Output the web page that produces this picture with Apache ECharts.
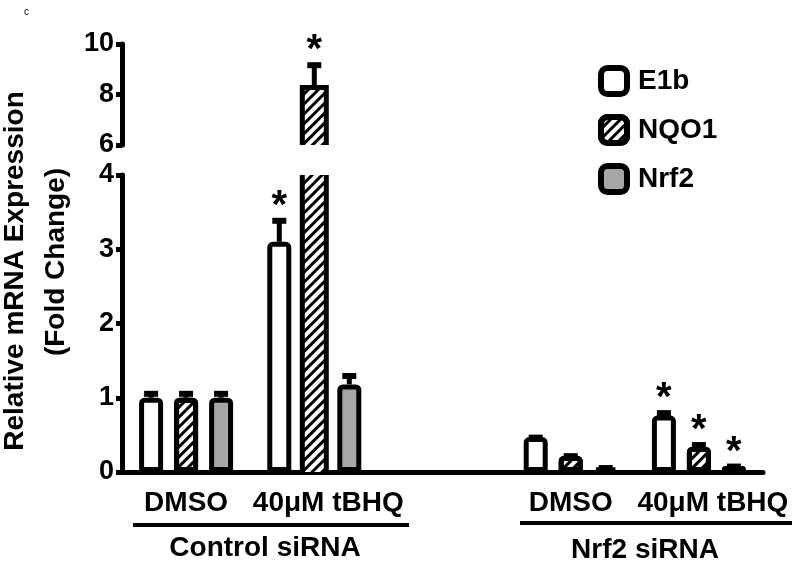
<!DOCTYPE html>
<html>
<head>
<meta charset="utf-8">
<title>Relative mRNA Expression</title>
<script src="https://cdn.jsdelivr.net/npm/echarts@6/dist/echarts.min.js"></script>
<style>
    html, body { margin: 0; padding: 0; background: #fff; }
    #main { width: 800px; height: 563px; }
</style>
</head>
<body>
<div id="main"></div>
<script>
    // values (third category is the empty spacer between the two siRNA groups)
    var categories = ['DMSO', '40μM tBHQ', '', 'DMSO', '40μM tBHQ'];
    var seriesNames = ['E1b', 'NQO1', 'Nrf2'];
    var e1b  = [1.00, 3.10, '-', 0.47, 0.76];
    var nqo1 = [1.00, 8.28, '-', 0.22, 0.34];
    var nrf2 = [1.00, 1.18, '-', 0.06, 0.08];
    // upper error (SEM)
    var e1bErr  = [0.08, 0.31, 0, 0.02, 0.06];
    var nqo1Err = [0.08, 0.96, 0, 0.02, 0.05];
    var nrf2Err = [0.08, 0.14, 0, 0.02, 0.02];
    // 1 = asterisk above the bar
    var e1bSig  = [0, 1, 0, 0, 1];
    var nqo1Sig = [0, 1, 0, 0, 1];
    var nrf2Sig = [0, 0, 0, 0, 1];
    // broken y axis: lower and upper segment
    var lowerAxis = { min: 0, max: 4, interval: 1 };
    var upperAxis = { min: 6, max: 10, interval: 2 };
    var groupLabels = ['Control siRNA', 'Nrf2 siRNA'];

    var FONT = '"Liberation Sans", Arial, sans-serif';
    var BAR_W = 24, BAR_GAP = 11, STAR_GAP = 12, EDGE = 5;

    var values = [e1b, nqo1, nrf2];
    var errs = [e1bErr, nqo1Err, nrf2Err];
    var sigs = [e1bSig, nqo1Sig, nrf2Sig];
    var fills = ['#ffffff', '#ffffff', '#a6a6a6'];
    var hatch = {
        symbol: 'rect',
        color: '#000',
        dashArrayX: [1, 0],
        dashArrayY: [3, 4],
        rotation: -Math.PI / 4
    };

    var chartDom = document.getElementById('main');
    var myChart = echarts.init(chartDom);

    // error bar + asterisk, and the open outline of a bar cut by the axis break
    function errorBar(j) {
        return function (params, api) {
            var cs = params.coordSys;
            var cat = api.value(0), val = api.value(1), err = api.value(2), sig = api.value(3);
            var dx = (j - 1) * (BAR_W + BAR_GAP);
            var top = api.coord([cat, val]);
            var tip = api.coord([cat, val + err]);
            var base = api.coord([cat, 0]);
            var x = top[0] + dx, hw = BAR_W / 2;
            var yTop = cs.y, yBot = cs.y + cs.height;
            var kids = [];
            var cutTop = top[1] < yTop - 0.5, cutBot = base[1] > yBot + 0.5;
            if ((cutTop || cutBot) && top[1] <= yBot) {
                var y1 = cutTop ? yTop : top[1], y2 = cutBot ? yBot : base[1];
                var lineStyle = { stroke: '#000', lineWidth: EDGE, fill: null };
                if (cutTop) {
                    kids.push({ type: 'line', shape: { x1: x - hw, y1: y1, x2: x - hw, y2: y2 }, style: lineStyle });
                    kids.push({ type: 'line', shape: { x1: x + hw, y1: y1, x2: x + hw, y2: y2 }, style: lineStyle });
                } else {
                    kids.push({ type: 'polyline', shape: { points: [[x - hw, y2], [x - hw, y1], [x + hw, y1], [x + hw, y2]] }, style: lineStyle });
                }
            }
            // only draw the error bar in the segment that holds the whole tip
            if (!(tip[1] < yTop - 1 || top[1] > yBot + 1)) {
                kids.push({ type: 'line', shape: { x1: x, y1: top[1], x2: x, y2: tip[1] }, style: { stroke: '#000', lineWidth: 5 } });
                kids.push({ type: 'line', shape: { x1: x - 7, y1: tip[1] + 2, x2: x + 7, y2: tip[1] + 2 }, style: { stroke: '#000', lineWidth: 6 } });
                if (sig) {
                    kids.push({
                        type: 'text', x: x, y: tip[1] - STAR_GAP,
                        style: { text: '*', fontSize: 40, fontWeight: 'bold', fontFamily: FONT, fill: '#000', align: 'center', verticalAlign: 'middle' }
                    });
                }
            }
            return { type: 'group', children: kids };
        };
    }

    var series = [];
    [0, 1].forEach(function (g) {
        values.forEach(function (vals, j) {
            series.push({
                type: 'bar',
                name: seriesNames[j],
                xAxisIndex: g,
                yAxisIndex: g,
                data: vals.map(function (v) {
                    if (v === '-') return v;
                    if (g === 1 && v < upperAxis.min) return '-';
                    // bars running through the break get their outline from the custom series
                    if (v > lowerAxis.max) return { value: v, itemStyle: { borderWidth: 0, borderRadius: 0 } };
                    return v;
                }),
                barWidth: BAR_W,
                barGap: (BAR_GAP / BAR_W * 100) + '%',
                clip: true,
                silent: true,
                itemStyle: {
                    color: fills[j],
                    borderColor: '#000',
                    borderWidth: EDGE,
                    borderRadius: [3, 3, 0, 0],
                    decal: j === 1 ? hatch : null
                },
                z: 2
            });
        });
        values.forEach(function (vals, j) {
            var d = [];
            vals.forEach(function (v, i) {
                if (v !== '-') d.push([i, v, errs[j][i], sigs[j][i]]);
            });
            series.push({
                type: 'custom',
                xAxisIndex: g,
                yAxisIndex: g,
                data: d,
                encode: { x: 0, y: 1 },
                renderItem: errorBar(j),
                silent: true,
                z: 3
            });
        });
    });

    var yAxisCommon = {
        type: 'value',
        splitLine: { show: false },
        axisLine: { show: true, lineStyle: { color: '#000', width: 5 } },
        axisTick: { show: true, length: 6, lineStyle: { color: '#000', width: 5 } },
        axisLabel: { color: '#000', fontSize: 27, fontWeight: 'bold', fontFamily: FONT, margin: 8 }
    };

    var option = {
        animation: false,
        backgroundColor: '#fff',
        textStyle: { fontFamily: FONT },
        legend: {
            data: seriesNames,
            orient: 'vertical',
            left: 593,
            top: 60,
            icon: 'roundRect',
            itemWidth: 26,
            itemHeight: 26,
            itemGap: 17,
            selectedMode: false,
            itemStyle: { borderColor: '#000', borderWidth: 6 },
            textStyle: { fontSize: 28, fontWeight: 'bold', color: '#000', fontFamily: FONT, padding: [0, 0, 0, 6] }
        },
        grid: [
            { left: 122, right: 37, top: 175, bottom: 91 },
            { left: 122, right: 37, top: 44, height: 101 }
        ],
        xAxis: [
            {
                type: 'category',
                gridIndex: 0,
                data: categories.map(function (c) {
                    return c.indexOf('tBHQ') >= 0 ? { value: c, textStyle: { padding: [0, 0, 0, 28] } } : c;
                }),
                axisLine: { lineStyle: { color: '#000', width: 5 } },
                axisTick: { alignWithLabel: true, length: 8, lineStyle: { color: '#000', width: 5 } },
                axisLabel: { color: '#000', fontSize: 28, fontWeight: 'bold', fontFamily: FONT, margin: 17, interval: 0 }
            },
            {
                type: 'category',
                gridIndex: 1,
                data: categories,
                show: false
            }
        ],
        yAxis: [
            Object.assign({ gridIndex: 0 }, yAxisCommon, lowerAxis),
            Object.assign({ gridIndex: 1 }, yAxisCommon, upperAxis)
        ],
        graphic: [
            { type: 'text', x: 24, y: 7, style: { text: 'c', fontSize: 10, fontFamily: FONT, fill: '#000' } },
            {
                type: 'text', x: 15, y: 271, rotation: Math.PI / 2,
                style: { text: 'Relative mRNA Expression', fontSize: 28, fontWeight: 'bold', fontFamily: FONT, fill: '#000', align: 'center', verticalAlign: 'middle' }
            },
            {
                type: 'text', x: 56, y: 262, rotation: Math.PI / 2,
                style: { text: '(Fold Change)', fontSize: 28, fontWeight: 'bold', fontFamily: FONT, fill: '#000', align: 'center', verticalAlign: 'middle' }
            },
            { type: 'line', shape: { x1: 133, y1: 525, x2: 409, y2: 525 }, style: { stroke: '#000', lineWidth: 4 } },
            { type: 'line', shape: { x1: 520, y1: 523, x2: 792, y2: 523 }, style: { stroke: '#000', lineWidth: 4 } },
            {
                type: 'text', x: 265, y: 548,
                style: { text: groupLabels[0], fontSize: 28, fontWeight: 'bold', fontFamily: FONT, fill: '#000', align: 'center', verticalAlign: 'middle' }
            },
            {
                type: 'text', x: 645, y: 550,
                style: { text: groupLabels[1], fontSize: 28, fontWeight: 'bold', fontFamily: FONT, fill: '#000', align: 'center', verticalAlign: 'middle' }
            }
        ],
        series: series
    };

    myChart.setOption(option);
</script>
</body>
</html>
